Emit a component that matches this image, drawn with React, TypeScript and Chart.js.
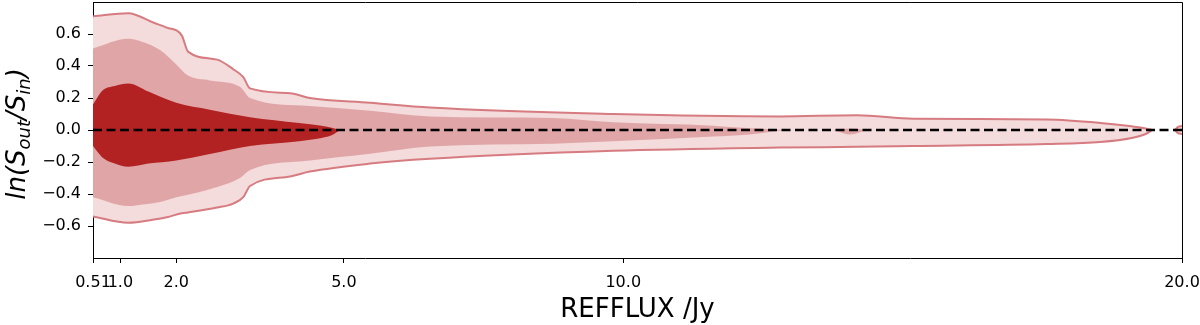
import React, { useEffect, useRef } from "react";
import { Chart, registerables } from "chart.js";

Chart.register(...registerables);

// Outer (light) band
const outerX = [0.51, 1.14, 1.6, 1.83, 2.1, 2.21, 2.73, 3.02, 3.2, 3.32, 4.04, 4.39, 5.47, 6.54, 9.82, 12.8, 14.18, 15.19, 17.58, 18.54, 19.1, 19.35, 19.47];
const outerUpper = [0.71, 0.73, 0.67, 0.64, 0.59, 0.49, 0.44, 0.38, 0.33, 0.26, 0.23, 0.2, 0.17, 0.14, 0.1, 0.085, 0.092, 0.071, 0.065, 0.044, 0.023, 0.01, 0.0];
const outerLower = [-0.54, -0.58, -0.56, -0.545, -0.52, -0.515, -0.485, -0.46, -0.42, -0.35, -0.29, -0.26, -0.21, -0.18, -0.13, -0.11, -0.105, -0.1, -0.088, -0.075, -0.05, -0.025, 0.0];

// Middle band
const middleX = [0.51, 1.14, 1.4, 1.71, 2.0, 2.21, 2.6, 3.14, 3.32, 4.39, 5.47, 6.54, 8.75, 9.82, 11.61, 12.21, 12.9];
const middleUpper = [0.51, 0.57, 0.55, 0.5, 0.41, 0.34, 0.31, 0.27, 0.2, 0.15, 0.12, 0.085, 0.075, 0.048, 0.027, 0.012, 0.0];
const middleLower = [-0.42, -0.475, -0.465, -0.45, -0.42, -0.405, -0.37, -0.3, -0.25, -0.19, -0.148, -0.103, -0.086, -0.071, -0.04, -0.029, 0.0];

// Inner (dark) band
const innerX = [0.51, 0.6, 0.69, 0.9, 1.14, 1.5, 2.0, 2.6, 3.32, 4.2, 4.6, 4.8, 4.93];
const innerUpper = [0.16, 0.21, 0.25, 0.275, 0.29, 0.24, 0.17, 0.127, 0.08, 0.044, 0.027, 0.013, 0.0];
const innerLower = [-0.1, -0.14, -0.175, -0.21, -0.23, -0.21, -0.19, -0.15, -0.1, -0.07, -0.05, -0.03, 0.0];

// Small islands
const islandOuterX = [19.87, 19.93, 20.0];
const islandOuterUpper = [0.0, 0.02, 0.025];
const islandOuterLower = [0.0, -0.02, -0.025];
const islandMidX = [13.76, 14.06, 14.37];
const islandMidUpper = [0.0, 0.01, 0.0];
const islandMidLower = [0.0, -0.028, 0.0];

const xTicks = [0.51, 1.0, 2.0, 5.0, 10.0, 20.0];
const xTickLabels = ["0.51", "1.0", "2.0", "5.0", "10.0", "20.0"];
const yTicks = [-0.6, -0.4, -0.2, 0.0, 0.2, 0.4, 0.6];

const OUTER_FILL = "#f4dbdc";
const OUTER_LINE = "#d67b80";
const MIDDLE_FILL = "#e0a6a7";
const INNER_FILL = "#b22222";
const FONT = '"DejaVu Sans", sans-serif';

function pts(xs: number[], ys: number[]) {
  return xs.map((x, i) => ({ x, y: ys[i] }));
}

function band(xs: number[], up: number[], lo: number[], fillColor: string, lineColor: string | null, order: number) {
  const common: any = {
    type: "line",
    pointRadius: 0,
    pointHoverRadius: 0,
    tension: 0,
    cubicInterpolationMode: "monotone",
    borderColor: lineColor || "rgba(0,0,0,0)",
    borderWidth: lineColor ? 2 : 0,
    order,
  };
  return [
    { ...common, data: pts(xs, up), fill: false, backgroundColor: fillColor },
    { ...common, data: pts(xs, lo), fill: "-1", backgroundColor: fillColor },
  ];
}

const frameAndTitle = {
  id: "frameAndTitle",
  afterDraw(chart: any) {
    const { ctx, chartArea } = chart;
    ctx.save();
    ctx.strokeStyle = "#000";
    ctx.lineWidth = 1;
    ctx.beginPath();
    ctx.moveTo(chartArea.left, chartArea.top + 0.5);
    ctx.lineTo(chartArea.right + 0.5, chartArea.top + 0.5);
    ctx.lineTo(chartArea.right + 0.5, chartArea.bottom);
    ctx.stroke();

    // y-axis title: ln(S_out/S_in)
    const big = 26;
    const small = 18;
    const pieces: [string, number, number][] = [
      ["ln(S", big, 0],
      ["out", small, 5],
      ["/S", big, 0],
      ["in", small, 5],
      [")", big, 0],
    ];
    let total = 0;
    for (const [t, s] of pieces) {
      ctx.font = `italic ${s}px ${FONT}`;
      total += ctx.measureText(t).width;
    }
    const cy = (chartArea.top + chartArea.bottom) / 2 + 4;
    ctx.translate(25, cy);
    ctx.rotate(-Math.PI / 2);
    ctx.fillStyle = "#000";
    ctx.textBaseline = "alphabetic";
    ctx.textAlign = "left";
    let x = -total / 2;
    for (const [t, s, dy] of pieces) {
      ctx.font = `italic ${s}px ${FONT}`;
      ctx.fillText(t, x, dy);
      x += ctx.measureText(t).width;
    }
    ctx.restore();
  },
};

export default function App() {
  const ref = useRef<HTMLCanvasElement | null>(null);
  useEffect(() => {
    document.body.style.margin = "0";
    const canvas = ref.current!;
    const datasets: any[] = [
      ...band(outerX, outerUpper, outerLower, OUTER_FILL, OUTER_LINE, 5),
      ...band(islandOuterX, islandOuterUpper, islandOuterLower, OUTER_FILL, OUTER_LINE, 4),
      ...band(middleX, middleUpper, middleLower, MIDDLE_FILL, null, 3),
      ...band(islandMidX, islandMidUpper, islandMidLower, MIDDLE_FILL, null, 3),
      ...band(innerX, innerUpper, innerLower, INNER_FILL, null, 2),
      {
        type: "line",
        data: [
          { x: 0.51, y: 0 },
          { x: 20.0, y: 0 },
        ],
        borderColor: "#000",
        borderWidth: 2.5,
        borderDash: [9, 4.5],
        pointRadius: 0,
        fill: false,
        order: 0,
      },
    ];
    const chart = new Chart(canvas, {
      type: "line",
      data: { datasets },
      plugins: [frameAndTitle],
      options: {
        animation: false,
        responsive: false,
        events: [],
        layout: { padding: { top: 2, right: 18, left: 0, bottom: 0 } },
        plugins: {
          legend: { display: false },
          tooltip: { enabled: false },
          filler: { propagate: false },
        },
        scales: {
          x: {
            type: "linear",
            min: 0.51,
            max: 20.0,
            afterBuildTicks: (scale: any) => {
              scale.ticks = xTicks.map((v) => ({ value: v }));
            },
            afterFit: (scale: any) => {
              scale.height = 67;
              scale.paddingLeft = 0;
              scale.paddingRight = 0;
            },
            ticks: {
              autoSkip: false,
              maxRotation: 0,
              minRotation: 0,
              padding: 10,
              color: "#000",
              font: { family: FONT, size: 16 },
              callback: (v: any) => {
                const i = xTicks.indexOf(Number(v));
                return i >= 0 ? xTickLabels[i] : "";
              },
            },
            grid: { drawOnChartArea: false, drawTicks: true, tickLength: 5, color: "#000" },
            border: { display: true, color: "#000", width: 1 },
            title: {
              display: true,
              text: "REFFLUX /Jy",
              color: "#000",
              font: { family: FONT, size: 26, lineHeight: 1.0 },
              padding: { top: 0, bottom: 1.5 },
            },
          },
          y: {
            type: "linear",
            min: -0.8,
            max: 0.8,
            afterBuildTicks: (scale: any) => {
              scale.ticks = yTicks.map((v) => ({ value: v }));
            },
            afterFit: (scale: any) => {
              scale.width = 93;
              scale.paddingTop = 0;
              scale.paddingBottom = 0;
            },
            ticks: {
              padding: 7,
              color: "#000",
              font: { family: FONT, size: 16 },
              callback: (v: any) => {
                const n = Number(v);
                const s = Math.abs(n).toFixed(1);
                return n < -1e-9 ? "\u2212" + s : s;
              },
            },
            grid: { drawOnChartArea: false, drawTicks: true, tickLength: 5, color: "#000" },
            border: { display: true, color: "#000", width: 1 },
          },
        },
      },
    } as any);
    return () => chart.destroy();
  }, []);
  return <canvas ref={ref} width={1200} height={325} style={{ display: "block" }} />;
}
